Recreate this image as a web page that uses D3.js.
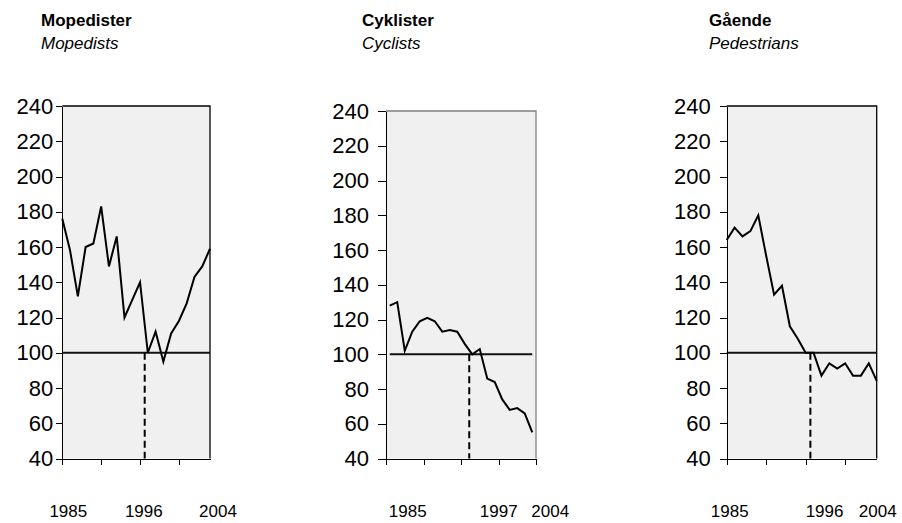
<!DOCTYPE html>
<meta charset="utf-8">
<style>
body {
  margin: 0;
  background: #fff;
}
text {
  font-family: "Liberation Sans", Arial, sans-serif;
  fill: #000;
}
.axis path, .axis line {
  stroke: #000;
  shape-rendering: crispEdges;
}
.axis text {
  font-family: "Liberation Sans", Arial, sans-serif;
}
</style>
<svg width="902" height="523"></svg>
<script src="https://d3js.org/d3.v7.min.js"></script>
<script>

// data (index 1996 = 100)
var years = [1985, 1986, 1987, 1988, 1989, 1990, 1991, 1992, 1993, 1994,
             1995, 1996, 1997, 1998, 1999, 2000, 2001, 2002, 2003, 2004];
var mopedister = [176, 158, 132, 160, 162, 183, 149, 166, 120, 130,
                  140, 100, 112, 95, 111, 118, 128, 143, 149, 159];
var cyklister = [128, 130, 102, 113, 119, 121, 119, 113, 114, 113,
                 106, 100, 103, 86, 84, 74, 68, 69, 66, 55];
var gaaende = [164, 171, 166, 169, 178, 155, 133, 138, 115, 108,
               100, 100, 87, 94, 91, 94, 87, 87, 94, 84];

var titles = ["Mopedister", "Cyklister", "Gående"];
var subtitles = ["Mopedists", "Cyclists", "Pedestrians"];
var yTicks = [40, 60, 80, 100, 120, 140, 160, 180, 200, 220, 240];
var xTicks = [1985, 1990, 1995, 2000, 2005];
var yearLabels = [["1985", "1996", "2004"], ["1985", "1997", "2004"], ["1985", "1996", "2004"]];
var baseLine = 100;
var dashYear = [1995.6, 1995.6, 1995.6];

var series = [mopedister, cyklister, gaaende];

// layout of the three panels
var layout = [
  {left: 62.3, right: 210, top: 106, bottom: 458.5, between: false, frame: "#000",
   tickLen: 6, pad: 3, titleX: 41, labelDx: [6, -4, 8]},
  {left: 386, right: 536, top: 111, bottom: 458.5, between: true, frame: "#808080",
   tickLen: 8, pad: 9, titleX: 362, labelDx: [18, 19, 18]},
  {left: 726.7, right: 876.7, top: 106, bottom: 458.5, between: false, frame: "#000",
   tickLen: 7, pad: 9, titleX: 709, labelDx: [3, 11, 1]}
];

var svg = d3.select("svg");

layout.forEach(function(p, i) {
  var values = series[i];

  var x = d3.scaleLinear()
      .domain(p.between ? [years[0] - 0.5, years[years.length - 1] + 0.5] : [years[0], years[years.length - 1]])
      .range([p.left, p.right]);

  var y = d3.scaleLinear()
      .domain([40, 240])
      .range([p.bottom, p.top]);

  var g = svg.append("g");

  // plot area
  g.append("rect")
      .attr("x", p.left)
      .attr("y", p.top)
      .attr("width", p.right - p.left)
      .attr("height", p.bottom - p.top)
      .attr("fill", "#f0f0f0");

  g.append("path")
      .attr("d", "M" + p.left + "," + p.top + "H" + p.right + "V" + p.bottom)
      .attr("fill", "none")
      .attr("stroke", p.frame)
      .attr("stroke-width", 1.3);

  // base line at 100
  var bx = p.between ? [x(years[0]), x(years[years.length - 1])] : [p.left, p.right];
  g.append("line")
      .attr("x1", bx[0])
      .attr("x2", bx[1])
      .attr("y1", y(baseLine))
      .attr("y2", y(baseLine))
      .attr("stroke", "#111")
      .attr("stroke-width", 2);

  // dashed marker down from the base year
  g.append("line")
      .attr("x1", x(dashYear[i]))
      .attr("x2", x(dashYear[i]))
      .attr("y1", y(baseLine))
      .attr("y2", y(40))
      .attr("stroke", "#000")
      .attr("stroke-width", 2)
      .attr("stroke-dasharray", "7,4");

  // the series
  var line = d3.line()
      .x(function(d, k) { return x(years[k]); })
      .y(function(d) { return y(d); });

  g.append("path")
      .datum(values)
      .attr("d", line)
      .attr("fill", "none")
      .attr("stroke", "#000")
      .attr("stroke-width", 2)
      .attr("stroke-linejoin", "miter");

  // axes
  g.append("g")
      .attr("class", "axis")
      .attr("transform", "translate(" + p.left + ",0)")
      .call(d3.axisLeft(y).tickValues(yTicks).tickSize(p.tickLen).tickSizeOuter(0).tickPadding(p.pad))
      .call(function(a) {
        a.selectAll("text").attr("font-size", 22).attr("fill", "#000");
      });

  var xt = p.between ? xTicks.map(function(t) { return t - 0.5; }) : xTicks.filter(function(t) { return t <= years[years.length - 1]; });
  g.append("g")
      .attr("class", "axis")
      .attr("transform", "translate(0," + p.bottom + ")")
      .call(d3.axisBottom(x).tickValues(xt).tickSize(6).tickSizeOuter(0).tickFormat(""));

  // year labels under the panel
  g.selectAll("text.year")
      .data(yearLabels[i])
    .enter().append("text")
      .attr("class", "year")
      .attr("x", function(d, k) { return x(+d) + p.labelDx[k]; })
      .attr("y", 517)
      .attr("text-anchor", "middle")
      .attr("font-size", 17)
      .text(function(d) { return d; });

  // titles
  g.append("text")
      .attr("x", p.titleX)
      .attr("y", 26)
      .attr("font-size", 17)
      .attr("font-weight", "bold")
      .text(titles[i]);

  g.append("text")
      .attr("x", p.titleX)
      .attr("y", 49)
      .attr("font-size", 17)
      .attr("font-style", "italic")
      .text(subtitles[i]);
});

</script>
